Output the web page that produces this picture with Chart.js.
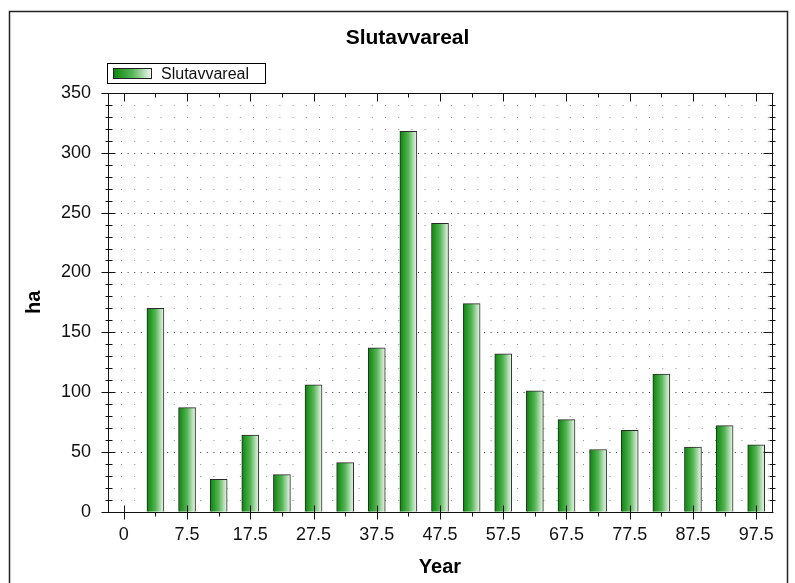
<!DOCTYPE html>
<html>
<head>
<meta charset="utf-8">
<title>Slutavvareal</title>
<script src="https://cdn.jsdelivr.net/npm/chart.js@4.4.1/dist/chart.umd.min.js"></script>
<style>
    html, body { margin: 0; padding: 0; background: #fff; }
    #chart { display: block; background: #fff; }
</style>
</head>
<body>
<canvas id="chart" width="795" height="583"></canvas>
<script>
// ============================================================================
// SLUTAVVAREAL - bar chart
// ============================================================================

// bar positions (x) and values (ha)
const years = [2.5, 7.5, 12.5, 17.5, 22.5, 27.5, 32.5, 37.5, 42.5, 47.5,
               52.5, 57.5, 62.5, 67.5, 72.5, 77.5, 82.5, 87.5, 92.5, 97.5];
const slutavvareal = [170, 87, 27, 64, 31, 106, 41, 137, 318, 241,
                      174, 132, 101, 77, 52, 68, 115, 54, 72, 56];

// axis ticks
const xTickValues = [-2.5, 7.5, 17.5, 27.5, 37.5, 47.5, 57.5, 67.5, 77.5, 87.5, 97.5];
const xTickLabels = ["0", "7.5", "17.5", "27.5", "37.5", "47.5", "57.5", "67.5", "77.5", "87.5", "97.5"];
const yTicks = [0, 50, 100, 150, 200, 250, 300, 350];
const yMinorStep = 10;

const FONT = "'Liberation Sans', Arial, sans-serif";

function barGradient(ctx, left, right) {
    const g = ctx.createLinearGradient(left, 0, right, 0);
    g.addColorStop(0, '#0a850a');
    g.addColorStop(0.5, '#55b455');
    g.addColorStop(1, '#eef8ee');
    return g;
}

function line(ctx, x1, y1, x2, y2) {
    ctx.beginPath();
    ctx.moveTo(x1, y1);
    ctx.lineTo(x2, y2);
    ctx.stroke();
}

// dotted grid, axis frame with tick marks, boxed legend
const decor = {
    id: 'decor',
    beforeDatasetsDraw(chart) {
        const { ctx, chartArea: a, scales: { y } } = chart;
        const yMax = yTicks[yTicks.length - 1];
        ctx.save();
        ctx.lineWidth = 1;
        for (let v = yMinorStep; v < yMax; v += yMinorStep) {
            const py = Math.round(y.getPixelForValue(v)) + 0.5;
            const major = v % 50 === 0;
            ctx.strokeStyle = major ? '#333' : '#8a8a8a';
            ctx.setLineDash(major ? [1, 5.6] : [1, 12.2]);
            line(ctx, a.left + 13, py, a.right - 2, py);
        }
        ctx.restore();
    },
    afterDatasetsDraw(chart) {
        const { ctx, chartArea: a, scales: { x, y } } = chart;
        const L = Math.round(a.left) + 0.5, R = Math.round(a.right) + 0.5;
        const T = Math.round(a.top) + 0.5, B = Math.round(a.bottom) + 0.5;
        ctx.save();
        ctx.strokeStyle = '#111';
        ctx.lineWidth = 1;
        ctx.strokeRect(L, T, R - L, B - T);

        // y ticks (left and right)
        const yMax = yTicks[yTicks.length - 1];
        for (let v = 0; v <= yMax; v += yMinorStep) {
            const py = Math.round(y.getPixelForValue(v)) + 0.5;
            if (yTicks.includes(v)) {
                line(ctx, L - 7, py, L + 7, py);
                line(ctx, R - 9, py, R + 1, py);
            } else {
                line(ctx, L - 3, py, L + 4, py);
                line(ctx, R - 3, py, R + 3, py);
            }
        }
        // x ticks (top and bottom)
        xTickValues.forEach(v => {
            const px = Math.round(x.getPixelForValue(v)) + 0.5;
            line(ctx, px, T, px, T + 8);
            line(ctx, px, B - 7, px, B + 7);
        });
        years.filter(v => !xTickValues.includes(v)).forEach(v => {
            const px = Math.round(x.getPixelForValue(v)) + 0.5;
            line(ctx, px, T, px, T + 4);
            line(ctx, px, B, px, B + 4);
        });
        ctx.restore();
    },
    afterDraw(chart) {
        const { ctx } = chart;
        ctx.save();
        // outer frame
        ctx.strokeStyle = '#222';
        ctx.lineWidth = 1.5;
        ctx.beginPath();
        ctx.moveTo(9.5, 583);
        ctx.lineTo(9.5, 11.5);
        ctx.lineTo(787.5, 11.5);
        ctx.lineTo(787.5, 583);
        ctx.stroke();

        // legend
        ctx.lineWidth = 1;
        ctx.strokeStyle = '#000';
        ctx.fillStyle = '#fff';
        ctx.fillRect(107.5, 63.5, 158, 20);
        ctx.strokeRect(107.5, 63.5, 158, 20);
        ctx.fillStyle = barGradient(ctx, 113, 151);
        ctx.fillRect(113.5, 68.5, 38, 10);
        ctx.strokeStyle = '#222';
        ctx.strokeRect(113.5, 68.5, 38, 10);
        ctx.fillStyle = '#111';
        ctx.font = '16px ' + FONT;
        ctx.textBaseline = 'middle';
        ctx.textAlign = 'left';
        ctx.fillText(chart.data.datasets[0].label, 161, 74.5);
        ctx.restore();
    }
};

const chart = new Chart(document.getElementById('chart'), {
    type: 'bar',
    data: {
        datasets: [{
            label: 'Slutavvareal',
            data: years.map((yr, i) => ({ x: yr, y: slutavvareal[i] })),
            backgroundColor: (c) => {
                const xs = c.chart.scales.x;
                if (!xs || c.dataIndex === undefined) return '#3a9a3a';
                const px = xs.getPixelForValue(years[c.dataIndex]);
                if (!isFinite(px)) return '#3a9a3a';
                return barGradient(c.chart.ctx, px - 8.5, px + 8.5);
            },
            borderColor: '#2a2a2a',
            borderWidth: 1,
            barThickness: 17
        }]
    },
    options: {
        responsive: false,
        animation: false,
        devicePixelRatio: 1,
        layout: { padding: { left: 20, right: 0, top: 0, bottom: 0 } },
        plugins: {
            legend: { display: false },
            tooltip: { enabled: false },
            title: {
                display: true,
                text: 'Slutavvareal',
                color: '#000',
                font: { family: FONT, size: 21, weight: 'bold' },
                padding: { top: 25.4, bottom: 42.4 }
            }
        },
        scales: {
            x: {
                type: 'linear',
                min: -5,
                max: 100,
                offset: false,
                grid: { display: false, drawTicks: false, offset: false },
                border: { display: false },
                afterBuildTicks: s => { s.ticks = xTickValues.map(v => ({ value: v })); },
                afterFit: s => { s.height = 71.3; },
                ticks: {
                    autoSkip: false,
                    maxRotation: 0,
                    padding: 13,
                    color: '#111',
                    font: { family: FONT, size: 18 },
                    callback: (v, i) => xTickLabels[i]
                },
                title: {
                    display: true,
                    text: 'Year',
                    color: '#000',
                    font: { family: FONT, size: 20, weight: 'bold' },
                    padding: { top: 0, bottom: 4 }
                }
            },
            y: {
                position: 'left',
                min: 0,
                max: 350,
                grid: { display: false, drawTicks: false },
                border: { display: false },
                afterBuildTicks: s => { s.ticks = yTicks.map(v => ({ value: v })); },
                afterFit: s => { s.width = 88; },
                ticks: { padding: 17, color: '#111', font: { family: FONT, size: 18 } },
                title: {
                    display: true,
                    text: 'ha',
                    color: '#000',
                    font: { family: FONT, size: 20, weight: 'bold' },
                    padding: { top: 2.5, bottom: 0 }
                }
            },
            y2: {
                type: 'linear',
                position: 'right',
                min: 0,
                max: 350,
                grid: { display: false, drawTicks: false },
                border: { display: false },
                ticks: { display: false },
                afterFit: s => { s.width = 23; }
            }
        }
    },
    plugins: [decor]
});
</script>
</body>
</html>
